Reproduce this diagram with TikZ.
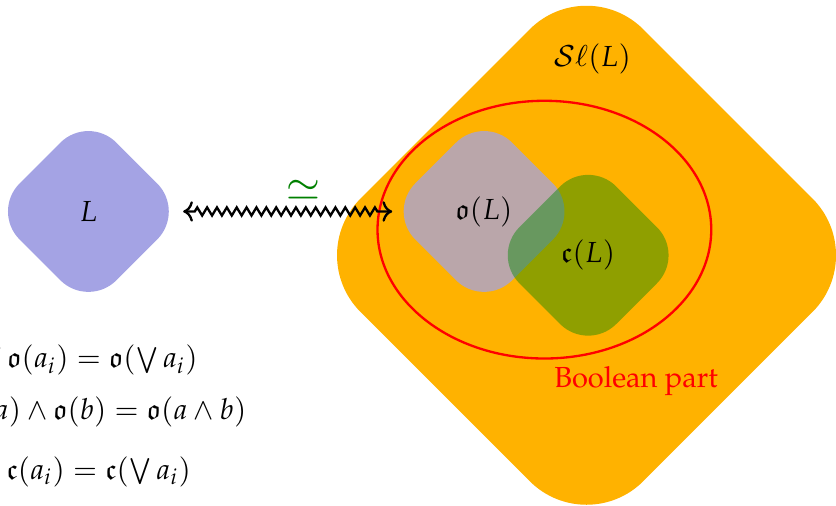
\documentclass[tikz,border=0pt]{standalone}
\usepackage[T1]{fontenc}
\usepackage{mathpazo}
\usepackage{amssymb}
\usepackage{tikz}
\usetikzlibrary{arrows.meta, shapes.geometric, decorations.pathmorphing}
\definecolor{slorange}{RGB}{255, 178, 0}
\definecolor{frameblue}{RGB}{164, 163, 228}
\definecolor{closedgreen}{RGB}{0, 136, 0}
\definecolor{isogreen}{RGB}{0, 128, 0}

\tikzset{
  rdiamond/.style={diamond, aspect=1, inner sep=0pt, rounded corners=0.48cm, minimum size=2.35cm},
  eqline/.style={anchor=base east, inner sep=0pt}
}

\begin{document}
\begin{tikzpicture}
        \useasboundingbox (0,0) rectangle (10.12,6.12);

        % Sl(L)
        \node[rdiamond, fill=slorange, minimum size=6.85cm, rounded corners=0.97cm] (sl) at (7.10,3.03) {};
        \node[anchor=base] (sllabel) at (7.17,5.32) {$\mathcal{S}\ell(L)$};

        % Boolean part
        \draw[red, line width=0.8pt] (6.59,3.34) ellipse (2.02cm and 1.56cm);
        \node[red, anchor=base] (boolpart) at (7.70,1.43) {Boolean part};

        % Open and closed sublocales
        \node[rdiamond, fill=frameblue, fill opacity=0.75, text opacity=1] (open) at (5.86,3.56) {$\mathfrak{o}(L)$};
        \node[rdiamond, fill=closedgreen, fill opacity=0.44, text opacity=1] (closed) at (7.12,3.03) {$\mathfrak{c}(L)$};

        % The frame
        \node[rdiamond, fill=frameblue] (frame) at (1.07,3.56) {$L$};

        % Isomorphism
        \draw[<->, thick, shorten <=-1pt, shorten >=-2pt, decorate,
          decoration={zigzag, segment length=3.4pt, amplitude=1.4pt, pre length=3pt, post length=3pt}]
          (frame) -- (open) node[midway, above=0pt, xshift=6pt, text=isogreen, font=\Large] (iso) {$\simeq$};

        % Equations
        \node[eqline] (eqjoin) at (2.40,1.67) {$\bigvee \mathfrak{o}(a_i) = \mathfrak{o}(\bigvee a_i)$};
        \node[eqline] (eqmeet) at (2.99,1.04) {$\mathfrak{o}(a) \wedge \mathfrak{o}(b) = \mathfrak{o}(a \wedge b)$};
        \node[eqline] (eqclosed) at (2.32,0.32) {$\bigwedge \mathfrak{c}(a_i) = \mathfrak{c}(\bigvee a_i)$};
      \end{tikzpicture}
\end{document}
